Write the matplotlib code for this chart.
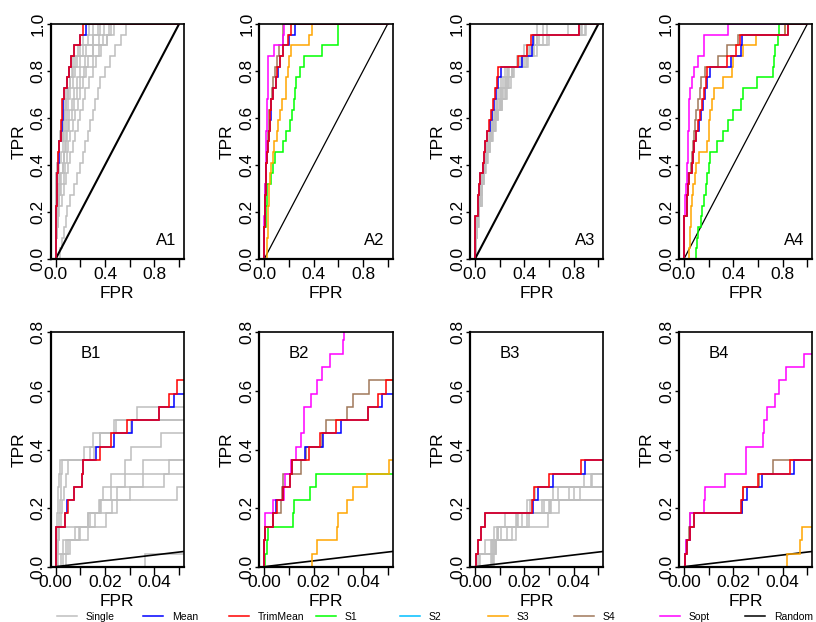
import matplotlib
matplotlib.use('Agg')
import matplotlib.pyplot as plt
from matplotlib.lines import Line2D

plt.rcParams['font.family'] = ['Liberation Sans', 'DejaVu Sans']

# TPR levels of the ROC staircase (22 positives)
TPR_LEVELS = [0.0, 0.045, 0.091, 0.136, 0.182, 0.227, 0.273, 0.318, 0.364, 0.409, 0.455,
              0.5, 0.545, 0.591, 0.636, 0.682, 0.727, 0.773, 0.818, 0.864, 0.909, 0.955, 1.0]

# FPR at which each successive positive is reached (dataset 1: panels 1 and 2)
MEAN_1 = [0.0, 0.0, 0.0003, 0.0036, 0.0046, 0.0075, 0.0105, 0.0112, 0.0165, 0.0237, 0.031,
          0.042, 0.0478, 0.056, 0.058, 0.068, 0.092, 0.11, 0.125, 0.15, 0.2, 0.25]
TRIM_1 = [0.0, 0.0, 0.0003, 0.0036, 0.0052, 0.0075, 0.0105, 0.0112, 0.018, 0.0224, 0.029,
          0.042, 0.046, 0.0493, 0.055, 0.067, 0.094, 0.107, 0.125, 0.148, 0.196, 0.22]
SINGLE_1 = [
    [0.0, 0.0, 0.0003, 0.0005, 0.0008, 0.001, 0.0013, 0.0017, 0.0138, 0.0178, 0.0237, 0.033,
     0.056, 0.062, 0.07, 0.08, 0.095, 0.11, 0.14, 0.18, 0.22, 0.27],
    [0.0003, 0.0006, 0.001, 0.0013, 0.0016, 0.002, 0.0023, 0.0026, 0.0115, 0.0152, 0.0245, 0.058,
     0.065, 0.075, 0.085, 0.1, 0.115, 0.13, 0.16, 0.2, 0.26, 0.3],
    [0.0005, 0.001, 0.0015, 0.002, 0.0025, 0.0032, 0.004, 0.005, 0.0155, 0.018, 0.0305, 0.055,
     0.06, 0.07, 0.085, 0.1, 0.12, 0.14, 0.17, 0.22, 0.3, 0.34],
    [0.0005, 0.001, 0.0013, 0.013, 0.0175, 0.019, 0.0225, 0.028, 0.0305, 0.0425, 0.06, 0.07,
     0.08, 0.09, 0.1, 0.12, 0.14, 0.16, 0.2, 0.25, 0.3, 0.36],
    [0.001, 0.003, 0.008, 0.0132, 0.018, 0.0225, 0.028, 0.0355, 0.056, 0.065, 0.075, 0.085,
     0.1, 0.11, 0.13, 0.15, 0.17, 0.2, 0.24, 0.3, 0.35, 0.39],
    [0.002, 0.004, 0.0095, 0.014, 0.0185, 0.025, 0.0355, 0.046, 0.06, 0.07, 0.08, 0.095,
     0.11, 0.13, 0.15, 0.17, 0.2, 0.23, 0.26, 0.3, 0.38, 0.43],
    [0.003, 0.005, 0.01, 0.0205, 0.023, 0.03, 0.044, 0.065, 0.075, 0.09, 0.1, 0.12,
     0.14, 0.16, 0.18, 0.2, 0.22, 0.25, 0.3, 0.35, 0.42, 0.45],
    [0.004, 0.006, 0.013, 0.016, 0.025, 0.049, 0.065, 0.08, 0.1, 0.12, 0.14, 0.16,
     0.18, 0.2, 0.22, 0.24, 0.27, 0.3, 0.33, 0.37, 0.42, 0.47],
    [0.036, 0.055, 0.065, 0.08, 0.094, 0.12, 0.15, 0.175, 0.2, 0.22, 0.24, 0.26,
     0.28, 0.3, 0.32, 0.34, 0.36, 0.4, 0.44, 0.48, 0.53, 0.57],
]
S1_2 = [0.0005, 0.001, 0.0016, 0.0115, 0.012, 0.0185, 0.0208, 0.055, 0.07, 0.09, 0.155, 0.18,
        0.21, 0.227, 0.243, 0.25, 0.26, 0.29, 0.32, 0.465, 0.6, 0.6]
S3_2 = [0.0195, 0.0215, 0.0294, 0.03, 0.0334, 0.036, 0.0416, 0.0506, 0.055, 0.07, 0.08, 0.1,
        0.11, 0.127, 0.14, 0.176, 0.18, 0.195, 0.2, 0.216, 0.36, 0.39]
S4_2 = [0.0, 0.0, 0.0003, 0.0036, 0.0068, 0.0072, 0.0075, 0.0148, 0.0168, 0.0234, 0.025, 0.0334,
        0.036, 0.0426, 0.055, 0.065, 0.075, 0.09, 0.1, 0.12, 0.15, 0.155]
SOPT_2 = [0.0, 0.0, 0.0003, 0.0005, 0.0036, 0.0082, 0.0086, 0.011, 0.0128, 0.0148, 0.016, 0.0162,
          0.019, 0.0215, 0.0235, 0.0265, 0.032, 0.0325, 0.034, 0.08, 0.155, 0.16]

# dataset 2: panels 3 and 4
MEAN_2 = [0.0004, 0.0011, 0.0026, 0.0042, 0.0235, 0.0255, 0.0318, 0.0445, 0.065, 0.075, 0.085,
          0.1, 0.122, 0.138, 0.152, 0.168, 0.19, 0.215, 0.385, 0.46, 0.47, 0.84]
TRIM_2 = [0.0004, 0.0011, 0.0024, 0.004, 0.0233, 0.0238, 0.03, 0.0428, 0.062, 0.07, 0.08,
          0.097, 0.115, 0.134, 0.148, 0.161, 0.177, 0.188, 0.35, 0.42, 0.456, 0.84]
SINGLE_3 = [
    [0.001, 0.004, 0.0095, 0.012, 0.0225, 0.0245, 0.044, 0.058, 0.068, 0.08, 0.09, 0.11,
     0.13, 0.15, 0.17, 0.19, 0.21, 0.24, 0.36, 0.42, 0.5, 0.86],
    [0.0015, 0.007, 0.0105, 0.017, 0.021, 0.0315, 0.054, 0.06, 0.07, 0.085, 0.1, 0.12,
     0.14, 0.16, 0.18, 0.2, 0.23, 0.26, 0.38, 0.45, 0.5, 0.55],
    [0.0005, 0.0065, 0.0078, 0.0165, 0.028, 0.0335, 0.0475, 0.06, 0.075, 0.09, 0.105, 0.125,
     0.145, 0.165, 0.19, 0.21, 0.24, 0.27, 0.34, 0.4, 0.48, 0.9],
    [0.002, 0.0078, 0.0095, 0.021, 0.027, 0.04, 0.058, 0.065, 0.08, 0.095, 0.11, 0.13,
     0.15, 0.17, 0.2, 0.22, 0.25, 0.28, 0.4, 0.47, 0.52, 0.58],
    [0.007, 0.0085, 0.0128, 0.0175, 0.0305, 0.055, 0.06, 0.07, 0.085, 0.1, 0.115, 0.135,
     0.16, 0.18, 0.21, 0.23, 0.26, 0.3, 0.43, 0.5, 0.58, 0.87],
    [0.0065, 0.0075, 0.009, 0.0295, 0.03, 0.0425, 0.053, 0.068, 0.082, 0.098, 0.12, 0.14,
     0.165, 0.185, 0.22, 0.25, 0.28, 0.31, 0.37, 0.44, 0.6, 0.89],
    [0.0075, 0.008, 0.0165, 0.022, 0.034, 0.056, 0.06, 0.075, 0.09, 0.105, 0.125, 0.15,
     0.17, 0.19, 0.22, 0.26, 0.29, 0.32, 0.42, 0.45, 0.48, 0.5],
    [0.0078, 0.0085, 0.015, 0.019, 0.031, 0.038, 0.047, 0.058, 0.072, 0.088, 0.11, 0.13,
     0.15, 0.175, 0.2, 0.24, 0.27, 0.3, 0.41, 0.48, 0.55, 0.75],
]
S1_4 = [0.1, 0.105, 0.115, 0.14, 0.15, 0.16, 0.175, 0.19, 0.2, 0.21, 0.27, 0.32,
        0.355, 0.4, 0.465, 0.48, 0.59, 0.725, 0.73, 0.74, 0.76, 0.77]
S3_4 = [0.0416, 0.0472, 0.048, 0.055, 0.06, 0.065, 0.07, 0.09, 0.1, 0.12, 0.19, 0.2,
        0.2, 0.21, 0.23, 0.24, 0.32, 0.39, 0.4, 0.48, 0.58, 0.82]
S4_4 = [0.0003, 0.0008, 0.002, 0.0025, 0.0235, 0.024, 0.0305, 0.0362, 0.055, 0.065, 0.07, 0.08,
        0.09, 0.1, 0.11, 0.13, 0.14, 0.17, 0.28, 0.35, 0.44, 0.82]
SOPT_4 = [0.0003, 0.0007, 0.0023, 0.0023, 0.008, 0.0087, 0.0168, 0.0252, 0.0252, 0.032, 0.0325,
          0.0335, 0.037, 0.0387, 0.0412, 0.0486, 0.065, 0.08, 0.11, 0.16, 0.165, 0.354]

RANDOM_FPR = [0.0, 1.0]
RANDOM_TPR = [0.0, 1.0]

LEGEND_NAMES = ['Single', 'Mean', 'TrimMean', 'S1', 'S2', 'S3', 'S4', 'Sopt', 'Random']
COLORS = {'Single': '#BEBEBE', 'Mean': '#0000FF', 'TrimMean': '#FF0000', 'S1': '#00FF00',
          'S2': '#00BFFF', 'S3': '#FFA500', 'S4': '#A0785A', 'Sopt': '#FF00FF', 'Random': '#000000'}

PANELS = [
    ('A1', 'B1', [('Single', c) for c in SINGLE_1] + [('Mean', MEAN_1), ('TrimMean', TRIM_1)], 1.5),
    ('A2', 'B2', [('S1', S1_2), ('S3', S3_2), ('S4', S4_2), ('Sopt', SOPT_2),
                  ('Mean', MEAN_1), ('TrimMean', TRIM_1)], 0.9),
    ('A3', 'B3', [('Single', c) for c in SINGLE_3] + [('Mean', MEAN_2), ('TrimMean', TRIM_2)], 1.5),
    ('A4', 'B4', [('S1', S1_4), ('S3', S3_4), ('S4', S4_4), ('Sopt', SOPT_4),
                  ('Mean', MEAN_2), ('TrimMean', TRIM_2)], 0.9),
]

W, H = 816, 622
fig = plt.figure(figsize=(W / 100, H / 100), dpi=100)
LEFTS = [50.7, 259.3, 470.0, 679.0]
AW = 133.3
ROWS = [(24.0, 259.0), (332.3, 566.7)]


def draw_roc(ax, jumps, color):
    x = [0.0] + list(jumps) + [1.0]
    y = TPR_LEVELS + [1.0]
    ax.step(x, y, where='post', color=color, lw=1.1, solid_joinstyle='miter')


def style(ax, xlim, ylim, xticks, xlabels, yticks, ylabels, hpx):
    ax.set_xlim(*xlim)
    ax.set_ylim(*ylim)
    ax.set_xticks(xticks)
    ax.set_xticklabels(xlabels)
    ax.set_yticks(yticks)
    ax.set_yticklabels(ylabels)
    for s in ax.spines.values():
        s.set_linewidth(1.2)
    ax.spines['left'].set_linewidth(1.6)
    ax.spines['bottom'].set_linewidth(1.6)
    ax.tick_params(axis='x', direction='out', length=5.5, width=1.0, pad=0.6, labelsize=12.5)
    ax.tick_params(axis='y', direction='out', length=3, width=1.0, pad=0.6, labelsize=12.5,
                   labelrotation=90)
    for lab in ax.get_yticklabels():
        lab.set_va('center')
    ax.set_xlabel('FPR', fontsize=12.5)
    ax.set_ylabel('TPR', fontsize=12.5)
    ax.xaxis.label.set_va('center')
    ax.yaxis.label.set_va('center')
    ax.xaxis.set_label_coords(0.5, -34.5 / hpx)
    ax.yaxis.set_label_coords(-32.0 / AW, 0.5)


for col, (la, lb, curves, rlw) in enumerate(PANELS):
    for row, (top, bot) in enumerate(ROWS):
        hpx = bot - top
        ax = fig.add_axes([LEFTS[col] / W, 1 - bot / H, AW / W, hpx / H])
        for name, jumps in curves:
            if name == 'Single':
                draw_roc(ax, jumps, COLORS[name])
        ax.plot(RANDOM_FPR, RANDOM_TPR, color='black', lw=(rlw if row == 0 else 1.2))
        for name, jumps in curves:
            if name != 'Single':
                draw_roc(ax, jumps, COLORS[name])
        if row == 0:
            style(ax, (-0.04, 1.04), (0, 1.0), [0, 0.2, 0.4, 0.6, 0.8, 1.0],
                  ['0.0', '', '0.4', '', '0.8', ''], [0, 0.2, 0.4, 0.6, 0.8, 1.0],
                  ['0.0', '0.2', '0.4', '0.6', '0.8', '1.0'], hpx)
            ax.text(0.865, 0.08, la, transform=ax.transAxes, ha='center', va='center', fontsize=12)
        else:
            style(ax, (-0.002, 0.052), (0, 0.8), [0, 0.01, 0.02, 0.03, 0.04, 0.05],
                  ['0.00', '', '0.02', '', '0.04', ''], [0, 0.2, 0.4, 0.6, 0.8],
                  ['0.0', '0.2', '0.4', '0.6', '0.8'], hpx)
            ax.text(0.30, 0.91, lb, transform=ax.transAxes, ha='center', va='center', fontsize=12)

LEG_X = [57, 143, 229, 316, 400, 488, 574, 660, 745]
for name, x in zip(LEGEND_NAMES, LEG_X):
    h = Line2D([], [], color=COLORS[name], lw=1.1)
    fig.legend([h], [name], loc='center left', bbox_to_anchor=(x / W, 1 - 617.0 / H),
               frameon=False, fontsize=7.5, handlelength=1.9, handletextpad=0.85,
               borderpad=0, borderaxespad=0)

fig.savefig('out.png', dpi=100)
